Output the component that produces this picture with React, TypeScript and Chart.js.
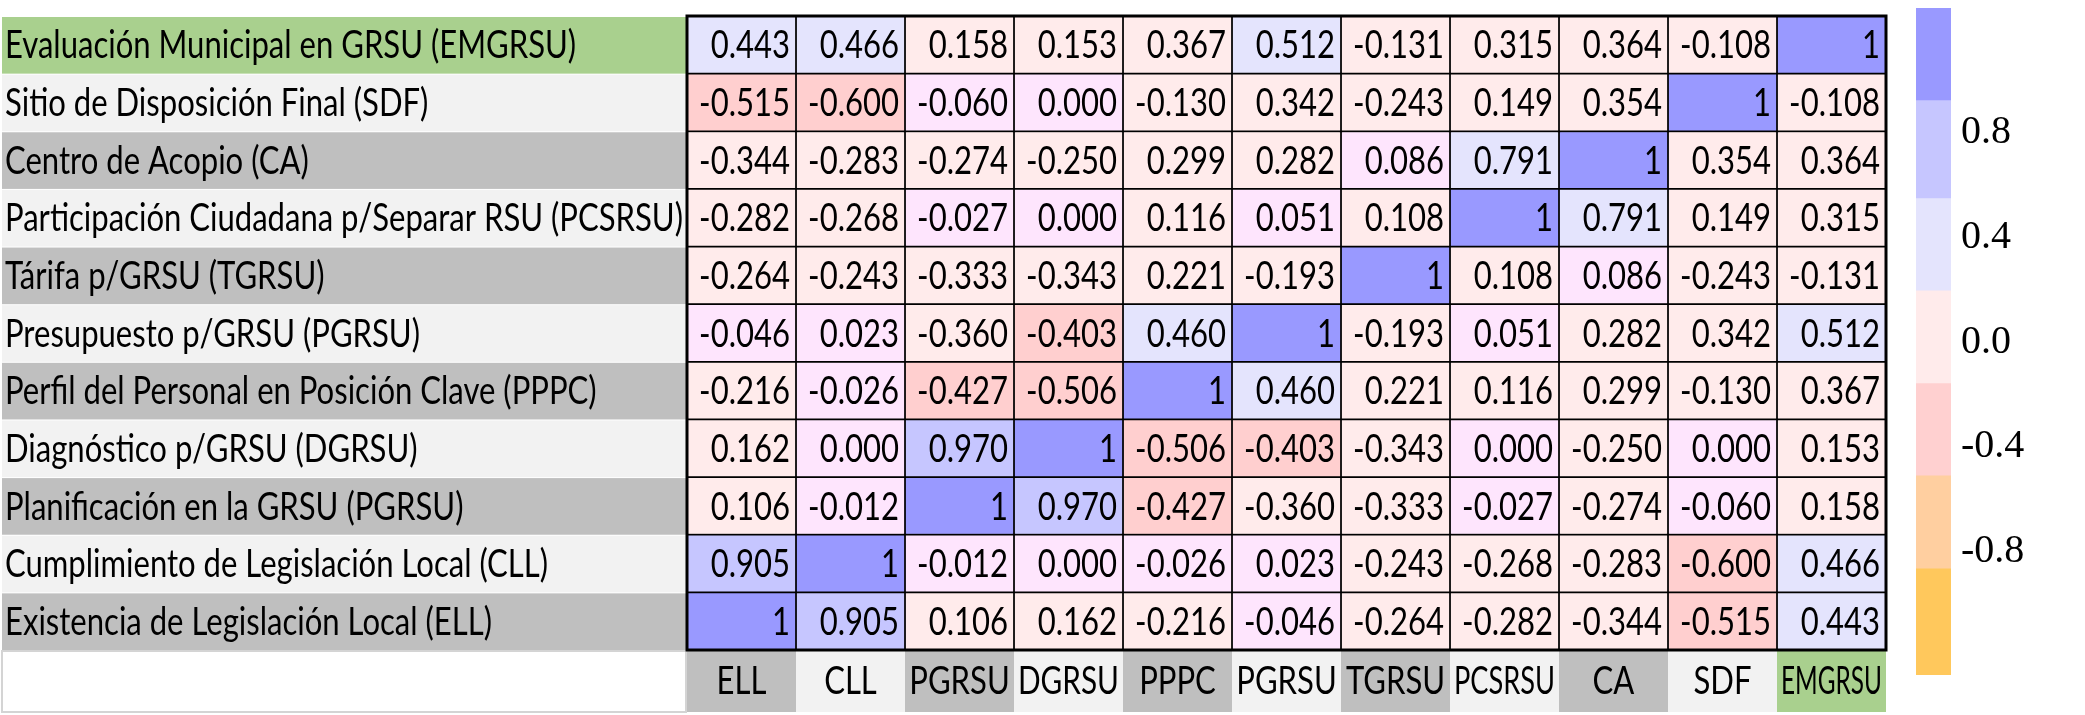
import React, { useEffect, useRef } from 'react';
import { Chart, registerables } from 'chart.js';

Chart.register(...registerables);

// ---------- data ----------
const rowLabels = [
  'Evaluación Municipal en GRSU (EMGRSU)',
  'Sitio de Disposición Final (SDF)',
  'Centro de Acopio (CA)',
  'Participación Ciudadana p/Separar RSU (PCSRSU)',
  'Tárifa p/GRSU (TGRSU)',
  'Presupuesto p/GRSU (PGRSU)',
  'Perfil del Personal en Posición Clave (PPPC)',
  'Diagnóstico p/GRSU (DGRSU)',
  'Planificación en la GRSU (PGRSU)',
  'Cumplimiento de Legislación Local (CLL)',
  'Existencia de Legislación Local (ELL)',
];
const colLabels = ['ELL', 'CLL', 'PGRSU', 'DGRSU', 'PPPC', 'PGRSU', 'TGRSU', 'PCSRSU', 'CA', 'SDF', 'EMGRSU'];

const rowEMGRSU = [0.443, 0.466, 0.158, 0.153, 0.367, 0.512, -0.131, 0.315, 0.364, -0.108, 1];
const rowSDF = [-0.515, -0.6, -0.06, 0.0, -0.13, 0.342, -0.243, 0.149, 0.354, 1, -0.108];
const rowCA = [-0.344, -0.283, -0.274, -0.25, 0.299, 0.282, 0.086, 0.791, 1, 0.354, 0.364];
const rowPCSRSU = [-0.282, -0.268, -0.027, 0.0, 0.116, 0.051, 0.108, 1, 0.791, 0.149, 0.315];
const rowTGRSU = [-0.264, -0.243, -0.333, -0.343, 0.221, -0.193, 1, 0.108, 0.086, -0.243, -0.131];
const rowPresGRSU = [-0.046, 0.023, -0.36, -0.403, 0.46, 1, -0.193, 0.051, 0.282, 0.342, 0.512];
const rowPPPC = [-0.216, -0.026, -0.427, -0.506, 1, 0.46, 0.221, 0.116, 0.299, -0.13, 0.367];
const rowDGRSU = [0.162, 0.0, 0.97, 1, -0.506, -0.403, -0.343, 0.0, -0.25, 0.0, 0.153];
const rowPlanGRSU = [0.106, -0.012, 1, 0.97, -0.427, -0.36, -0.333, -0.027, -0.274, -0.06, 0.158];
const rowCLL = [0.905, 1, -0.012, 0.0, -0.026, 0.023, -0.243, -0.268, -0.283, -0.6, 0.466];
const rowELL = [1, 0.905, 0.106, 0.162, -0.216, -0.046, -0.264, -0.282, -0.344, -0.515, 0.443];

const matrix = [
  rowEMGRSU, rowSDF, rowCA, rowPCSRSU, rowTGRSU, rowPresGRSU,
  rowPPPC, rowDGRSU, rowPlanGRSU, rowCLL, rowELL,
];

const legendTicks = [0.8, 0.4, 0.0, -0.4, -0.8];
const legendBands: [number, number][] = [
  [0.924, 1.275], [0.55, 0.924], [0.198, 0.55], [-0.156, 0.198],
  [-0.508, -0.156], [-0.863, -0.508], [-1.271, -0.863],
];

// ---------- styles ----------
const legendColors = ['#9999ff', '#c6c6ff', '#e4e4fd', '#ffebeb', '#ffd0d0', '#ffcfa0', '#ffc85c'];
const SANS = "Lato, 'Open Sans', sans-serif";
const SERIF = "'Liberation Serif', 'DejaVu Serif', serif";
const FONT_PX = 38;
const LABEL_TARGET_W = 678; // width of the widest row label in the reference
const GREEN = '#a9d08e';
const GRAY = '#bfbfbf';
const LIGHT = '#f2f2f2';

function cellColor(v: number): string {
  if (v >= 0.99) return '#9999ff';
  if (v >= 0.85) return '#c6c6ff';
  if (v >= 0.4) return '#e4e4fd';
  if (v <= -0.4) return '#ffcfcf';
  if (Math.abs(v) < 0.1) return '#fee5fd';
  return '#ffebeb';
}

function fmt(v: number): string {
  return v === 1 ? '1' : v.toFixed(3);
}

function bandColor(k: number, n: number): string {
  if (k === n - 1) return GREEN;
  return k % 2 === 0 ? GRAY : LIGHT;
}

function drawNarrow(ctx: CanvasRenderingContext2D, text: string, x: number, y: number, align: CanvasTextAlign, sx: number) {
  ctx.save();
  ctx.translate(x, y);
  ctx.scale(sx, 1);
  ctx.textAlign = align;
  ctx.textBaseline = 'alphabetic';
  ctx.fillText(text, 0, 0);
  ctx.restore();
}

const bgPlugin = {
  id: 'bgBands',
  beforeDraw(chart: any) {
    const { ctx, chartArea: a, scales } = chart;
    const n = rowLabels.length;
    const rowH = (a.bottom - a.top) / n;
    ctx.save();
    rowLabels.forEach((_, i) => {
      const cy = scales.y.getPixelForValue(i);
      ctx.fillStyle = bandColor(n - 1 - i, n);
      ctx.fillRect(2, cy - rowH / 2 + 1, a.left - 3, rowH - 1);
    });
    const H = chart.height;
    colLabels.forEach((_, j) => {
      const l = scales.x.getPixelForValue(j);
      const r = scales.x.getPixelForValue(j + 1);
      ctx.fillStyle = bandColor(j, colLabels.length);
      ctx.fillRect(l, a.bottom, r - l, H - 3 - a.bottom);
    });
    ctx.fillStyle = '#ffffff';
    ctx.fillRect(2, a.bottom + 1, a.left - 3, H - 3 - a.bottom);
    ctx.strokeStyle = '#d4d4d4';
    ctx.lineWidth = 2;
    ctx.strokeRect(2, a.bottom + 1, a.left - 3, H - 4 - a.bottom);
    ctx.restore();
  },
};

const textPlugin = {
  id: 'cellText',
  afterDatasetsDraw(chart: any) {
    const { ctx, chartArea: a, scales } = chart;
    ctx.save();
    ctx.font = `${FONT_PX}px ${SANS}`;
    ctx.fillStyle = '#000';
    const widest = Math.max(...rowLabels.map((t) => ctx.measureText(t).width));
    const sx = LABEL_TARGET_W / widest;
    const capHalf = FONT_PX * 0.36;

    // cell values
    colLabels.forEach((_, j) => {
      const meta = chart.getDatasetMeta(j);
      meta.data.forEach((el: any, i: number) => {
        drawNarrow(ctx, fmt(matrix[i][j]), el.x - 6, el.y + capHalf, 'right', sx);
      });
    });

    // row labels
    rowLabels.forEach((t, i) => {
      const cy = scales.y.getPixelForValue(i);
      drawNarrow(ctx, t, 5, cy + capHalf, 'left', sx);
    });

    // column labels (squeezed further if they would not fit their band)
    colLabels.forEach((t, j) => {
      const l = scales.x.getPixelForValue(j);
      const r = scales.x.getPixelForValue(j + 1);
      const w = ctx.measureText(t).width;
      const s = Math.min(sx, (r - l - 8) / w);
      drawNarrow(ctx, t, (l + r) / 2, a.bottom + 44, 'center', s);
    });

    ctx.lineWidth = 3;
    ctx.strokeStyle = '#000';
    ctx.strokeRect(a.left, a.top, a.right - a.left, a.bottom - a.top);
    ctx.restore();
  },
};

export default function App() {
  const mainRef = useRef<HTMLCanvasElement>(null);
  const legRef = useRef<HTMLCanvasElement>(null);

  useEffect(() => {
    if (!mainRef.current || !legRef.current) return;
    const main = new Chart(mainRef.current, {
      type: 'bar',
      data: {
        labels: rowLabels,
        datasets: colLabels.map((c, j) => ({
          label: c,
          data: rowLabels.map(() => 1),
          backgroundColor: (ctx: any) => cellColor(matrix[ctx.dataIndex]?.[j] ?? 0),
          borderColor: '#000',
          borderWidth: 1.2,
          borderSkipped: false,
          barPercentage: 1,
          categoryPercentage: 1,
        })),
      },
      options: {
        indexAxis: 'y',
        responsive: false,
        animation: false,
        layout: { padding: { left: 5, right: 4, top: 16, bottom: 0 } },
        plugins: { legend: { display: false }, tooltip: { enabled: false } },
        scales: {
          x: {
            type: 'linear',
            stacked: true,
            min: 0,
            max: colLabels.length,
            grid: { display: false, drawTicks: false },
            border: { display: false },
            ticks: { display: false },
            afterFit: (axis: any) => {
              axis.height = 65;
              axis.paddingLeft = 0;
              axis.paddingRight = 0;
            },
          },
          y: {
            type: 'category',
            stacked: true,
            grid: { display: false, drawTicks: false },
            border: { display: false },
            ticks: { display: false },
            afterFit: (axis: any) => {
              axis.width = 682;
              axis.paddingTop = 0;
              axis.paddingBottom = 0;
            },
          },
        },
      } as any,
      plugins: [bgPlugin, textPlugin],
    });

    const legend = new Chart(legRef.current, {
      type: 'bar',
      data: {
        labels: [''],
        datasets: legendBands.map((b, k) => ({
          data: [b],
          backgroundColor: legendColors[k],
          borderWidth: 0,
          barPercentage: 1,
          categoryPercentage: 1,
          grouped: false,
        })),
      } as any,
      options: {
        responsive: false,
        animation: false,
        layout: { padding: { left: 26, top: 8, bottom: 40, right: 0 } },
        plugins: { legend: { display: false }, tooltip: { enabled: false } },
        scales: {
          x: { display: false },
          y: {
            position: 'right',
            min: -1.271,
            max: 1.275,
            grid: { display: false, drawTicks: false },
            border: { display: false },
            afterBuildTicks: (axis: any) => {
              axis.ticks = legendTicks.map((v) => ({ value: v }));
            },
            afterFit: (axis: any) => {
              axis.width = 134;
              axis.paddingTop = 0;
              axis.paddingBottom = 0;
            },
            ticks: {
              padding: 10,
              color: '#000',
              font: { family: SERIF, size: 40 },
              callback: (v: any) => Number(v).toFixed(1),
            },
          },
        },
      } as any,
    });

    return () => {
      main.destroy();
      legend.destroy();
    };
  }, []);

  return (
    <div style={{ position: 'absolute', left: 0, top: 0, width: 2085, height: 715, background: '#fff' }}>
      <canvas ref={mainRef} width={1890} height={715} style={{ position: 'absolute', left: 0, top: 0 }} />
      <canvas ref={legRef} width={195} height={715} style={{ position: 'absolute', left: 1890, top: 0 }} />
    </div>
  );
}
